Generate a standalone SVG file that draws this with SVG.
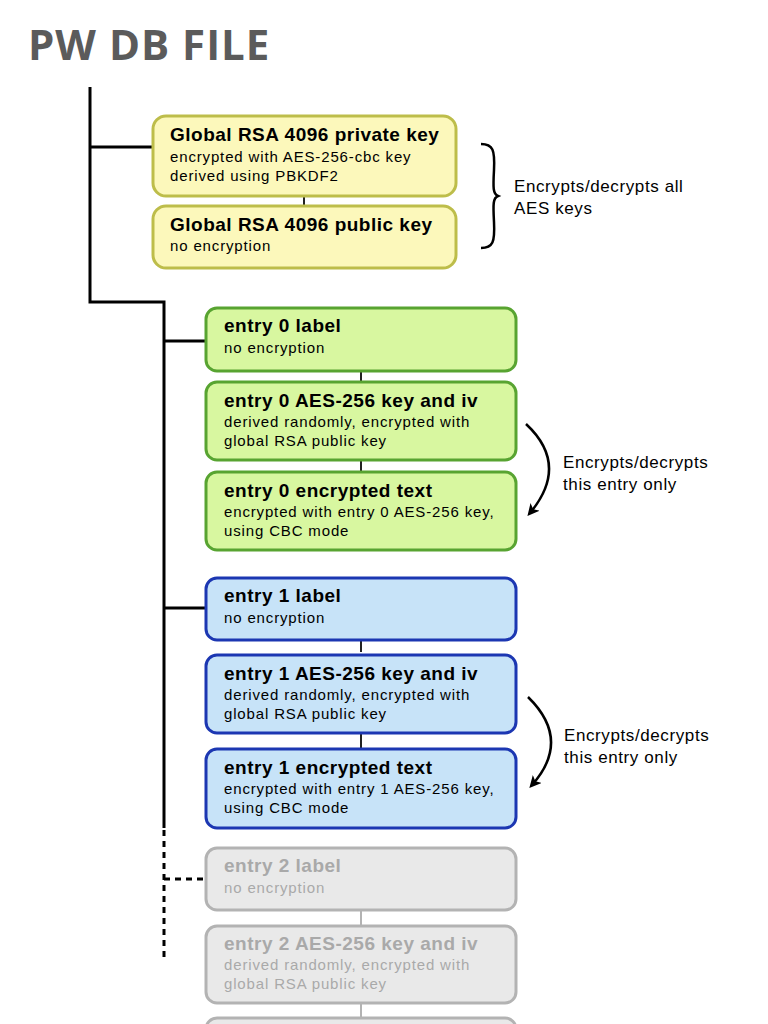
<svg xmlns="http://www.w3.org/2000/svg" width="768" height="1024" viewBox="0 0 768 1024">
<defs>
<style>
.title{font-family:"Open Sans","Liberation Sans",sans-serif;font-weight:bold;font-size:42px;letter-spacing:1px;fill:#5b5b5b}
.h{font-family:"Liberation Sans",Arial,sans-serif;font-weight:bold;font-size:19px;letter-spacing:0.5px;fill:#000}
.s{font-family:"Liberation Sans",Arial,sans-serif;font-size:15px;letter-spacing:0.85px;fill:#000}
.n{font-family:"Liberation Sans",Arial,sans-serif;font-size:17px;letter-spacing:0.6px;fill:#000}
.y{fill:#fcf8bb;stroke:#bdbd4a;stroke-width:3}
.g{fill:#d8f7a0;stroke:#58a431;stroke-width:3}
.b{fill:#c7e3f8;stroke:#1c37b2;stroke-width:3}
.gr{fill:#e9e9e9;stroke:#b3b3b3;stroke-width:3}
.gr-t .h,.gr-t .s{fill:#a9a9a9}
.ln{stroke:#000;stroke-width:3;fill:none}
.ln2{stroke:#222;stroke-width:2;fill:none}
.lg{stroke:#b3b3b3;stroke-width:2;fill:none}
.dash{stroke:#000;stroke-width:3;fill:none;stroke-dasharray:6 5}
.arc{stroke:#000;stroke-width:2.5;fill:none}
</style>
<marker id="ah" markerWidth="12" markerHeight="12" refX="8" refY="6" orient="auto" markerUnits="userSpaceOnUse" viewBox="0 0 12 12">
<path d="M0,0 L12,6 L0,12 L3,6 Z" fill="#000"/>
</marker>
</defs>
<rect width="768" height="1024" fill="#fff"/>
<text class="title" x="28" y="60">PW DB FILE</text>

<g id="connectors">
<path class="ln" d="M90,87 V302 H164 V828"/>
<path class="ln" d="M90,147 H153"/>
<path class="ln" d="M164,341 H206"/>
<path class="ln" d="M164,608 H206"/>
<path class="dash" d="M164,830 V958"/>
<path class="dash" d="M164,879 H206"/>
<path class="ln2" d="M304,196 V206"/>
<path class="ln2" d="M361,371 V382"/>
<path class="ln2" d="M361,460 V472"/>
<path class="ln2" d="M361,640 V652"/>
<path class="ln2" d="M361,733 V749"/>
<path class="lg" d="M361,910 V926"/>
<path class="lg" d="M361,1003 V1018"/>
<path class="arc" d="M526,424 Q570,465 530,513" marker-end="url(#ah)"/>
<path class="arc" d="M528,697 Q572,740 532,785" marker-end="url(#ah)"/>
</g>

<g id="brace">
<path d="M481,144 C493,144 495,150 494,170 C493,188 493,194 498,196 C493,198 493,204 494,222 C495,242 493,248 481,248" fill="none" stroke="#000" stroke-width="2.5"/>
</g>

<g id="global-private">
<rect class="y" x="153" y="116" width="303" height="80" rx="13"/>
<text class="h" x="170" y="141">Global RSA 4096 private key</text>
<text class="s" x="170" y="162">encrypted with AES-256-cbc key</text>
<text class="s" x="170" y="181">derived using PBKDF2</text>
</g>
<g id="global-public">
<rect class="y" x="153" y="206" width="303" height="62" rx="13"/>
<text class="h" x="170" y="231">Global RSA 4096 public key</text>
<text class="s" x="170" y="251">no encryption</text>
</g>
<g id="note-global">
<text class="n" x="514" y="192">Encrypts/decrypts all</text>
<text class="n" x="514" y="214">AES keys</text>
</g>

<g id="e0-label">
<rect class="g" x="206" y="308" width="310" height="63" rx="11"/>
<text class="h" x="224" y="332">entry 0 label</text>
<text class="s" x="224" y="353">no encryption</text>
</g>
<g id="e0-key">
<rect class="g" x="206" y="382" width="310" height="78" rx="11"/>
<text class="h" x="224" y="407">entry 0 AES-256 key and iv</text>
<text class="s" x="224" y="427">derived randomly, encrypted with</text>
<text class="s" x="224" y="446">global RSA public key</text>
</g>
<g id="e0-text">
<rect class="g" x="206" y="472" width="310" height="78" rx="11"/>
<text class="h" x="224" y="497">entry 0 encrypted text</text>
<text class="s" x="224" y="517">encrypted with entry 0 AES-256 key,</text>
<text class="s" x="224" y="536">using CBC mode</text>
</g>
<g id="note-e0">
<text class="n" x="563" y="468">Encrypts/decrypts</text>
<text class="n" x="563" y="490">this entry only</text>
</g>

<g id="e1-label">
<rect class="b" x="206" y="578" width="310" height="62" rx="11"/>
<text class="h" x="224" y="602">entry 1 label</text>
<text class="s" x="224" y="623">no encryption</text>
</g>
<g id="e1-key">
<rect class="b" x="206" y="655" width="310" height="78" rx="11"/>
<text class="h" x="224" y="680">entry 1 AES-256 key and iv</text>
<text class="s" x="224" y="700">derived randomly, encrypted with</text>
<text class="s" x="224" y="719">global RSA public key</text>
</g>
<g id="e1-text">
<rect class="b" x="206" y="749" width="310" height="79" rx="11"/>
<text class="h" x="224" y="774">entry 1 encrypted text</text>
<text class="s" x="224" y="794">encrypted with entry 1 AES-256 key,</text>
<text class="s" x="224" y="813">using CBC mode</text>
</g>
<g id="note-e1">
<text class="n" x="564" y="741">Encrypts/decrypts</text>
<text class="n" x="564" y="763">this entry only</text>
</g>

<g id="e2-label" class="gr-t">
<rect class="gr" x="206" y="848" width="310" height="62" rx="11"/>
<text class="h" x="224" y="872">entry 2 label</text>
<text class="s" x="224" y="893">no encryption</text>
</g>
<g id="e2-key" class="gr-t">
<rect class="gr" x="206" y="926" width="310" height="77" rx="11"/>
<text class="h" x="224" y="950">entry 2 AES-256 key and iv</text>
<text class="s" x="224" y="970">derived randomly, encrypted with</text>
<text class="s" x="224" y="989">global RSA public key</text>
</g>
<g id="e2-text" class="gr-t">
<rect class="gr" x="206" y="1018" width="310" height="40" rx="11"/>
</g>
</svg>
